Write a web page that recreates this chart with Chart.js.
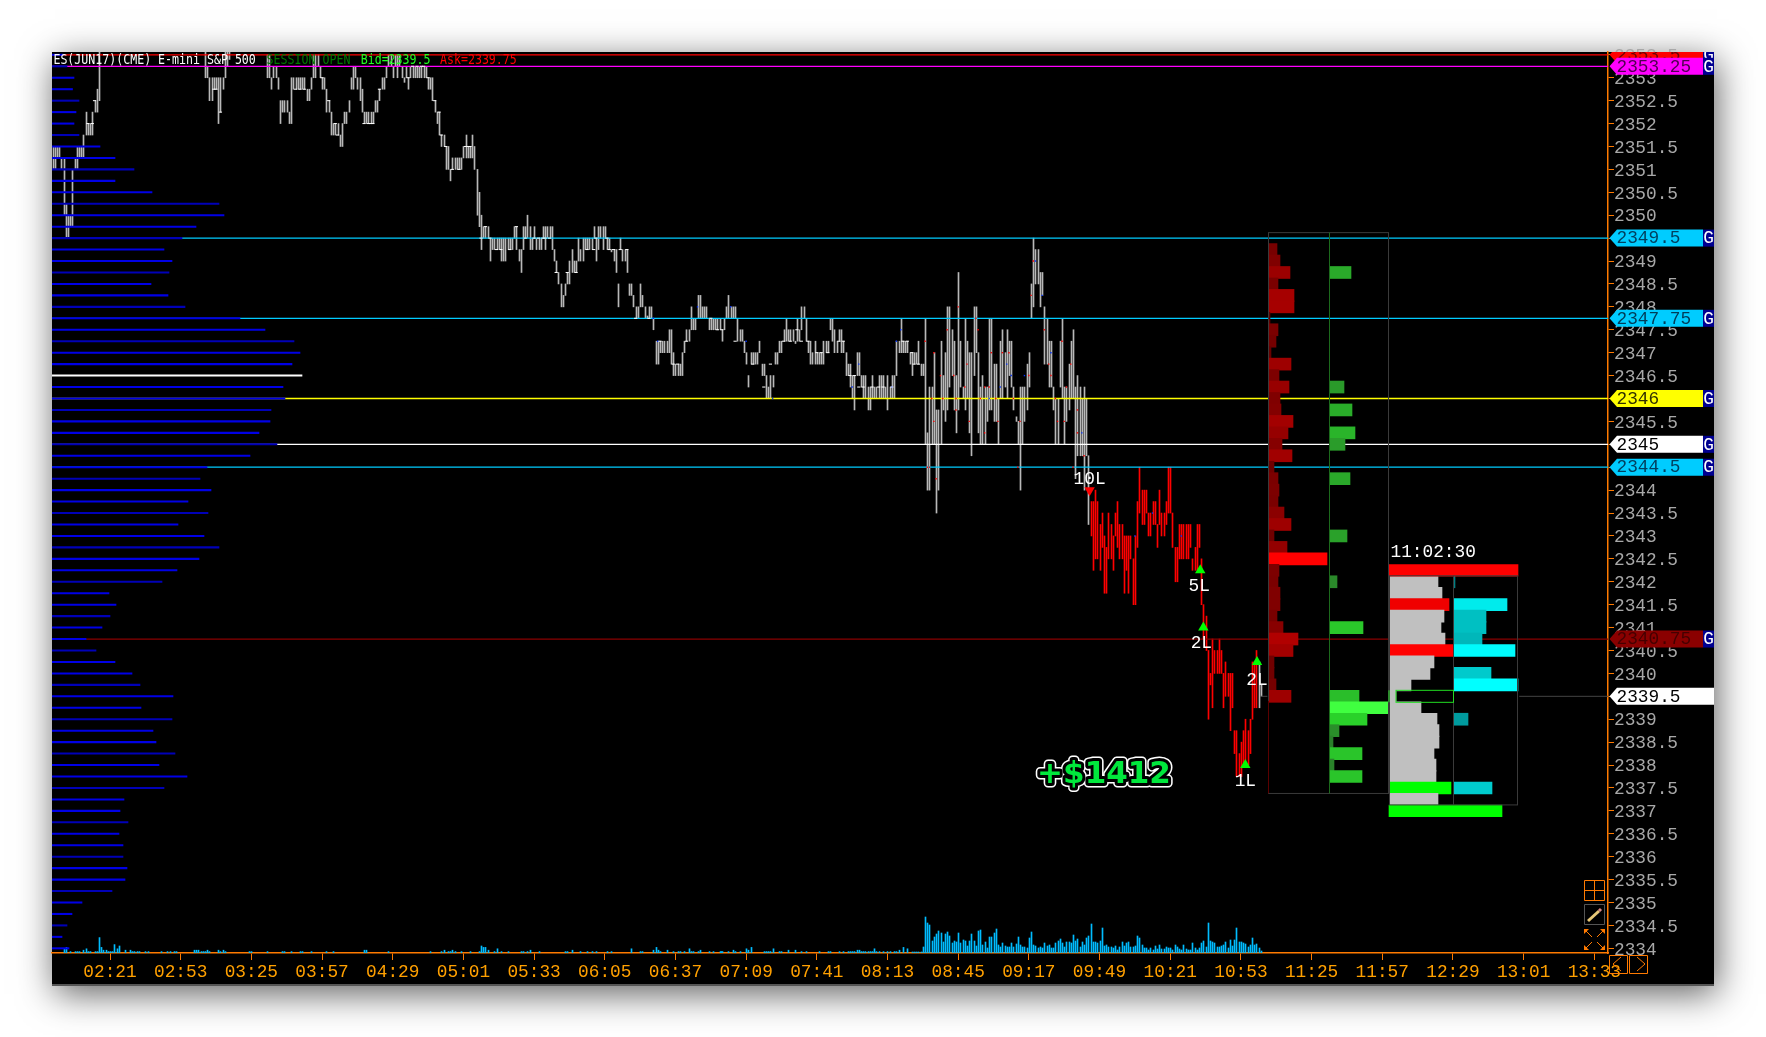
<!DOCTYPE html>
<html><head><meta charset="utf-8"><title>ES chart</title>
<script src="https://cdn.jsdelivr.net/npm/chart.js@4"></script>
<style>
html,body{margin:0;padding:0;background:#fff;overflow:hidden;width:1766px;height:1037px}
#panel{position:absolute;left:52px;top:52px;width:1662px;height:932px;background:#000;border-bottom:2px solid #555;box-shadow:3px 8px 34px rgba(0,0,0,.62)}
canvas{position:absolute;left:0;top:0}
</style></head><body><div id="panel"></div><canvas id="c" width="1766" height="1037"></canvas>
<script>
// ---------- axes ----------
const timeLabels=['02:21','02:53','03:25','03:57','04:29','05:01','05:33','06:05','06:37','07:09','07:41','08:13','08:45','09:17','09:49','10:21','10:53','11:25','11:57','12:29','13:01','13:33'];
const priceTicks=[2334,2334.5,2335,2335.5,2336,2336.5,2337,2337.5,2338,2338.5,2339,2339.5,2340,2340.5,2341,2341.5,2342,2342.5,2343,2343.5,2344,2344.5,2345,2345.5,2346,2346.5,2347,2347.5,2348,2348.5,2349,2349.5,2350,2350.5,2351,2351.5,2352,2352.5,2353,2353.5];
const priceMin=2333.898, priceMax=2353.562, timeMin=114.74, timeMax=819.2;
// ---------- one-minute price ranges [low, high], minutes after midnight ----------
const startA=115;
const barsA=[[2351,2351.5],[2351,2351.5],[2351.25,2351.5],[2351.25,2351.5],[2351,2351.25],[2350,2351.25],[2349.5,2350.25],[2349.5,2350],[2349.75,2350],[2349.75,2351],[2351,2351.25],[2351,2351.5],[2351.25,2351.5],[2351.25,2351.5],[2351.25,2351.75],[2351.75,2352.25],[2351.75,2352],[2351.75,2352],[2351.75,2352.25],[2352.25,2352.5],[2352.25,2352.75],[2352.5,2353.6]];
const startB=184;
const barsB=[[2353,2353.6],[2353,2353.25],[2352.5,2353],[2352.5,2353],[2352.75,2353],[2352.75,2353],[2352,2353],[2352.25,2353],[2352.75,2353],[2353,2353.6],[2353.25,2353.6],[2353.4,2353.6]];
const startC=212;
const barsC=[[2353,2353.5],[2353,2353.5],[2352.75,2353],[2353,2353.25],[2353,2353.25],[2352.75,2353],
[2352,2352.5],[2352.25,2352.5],[2352.25,2352.5],[2352.25,2352.5],[2352,2352.25],[2352,2353],[2352.75,2353],[2352.75,2353],[2352.75,2353],[2352.75,2353],[2352.75,2353],[2352.75,2353],[2352.5,2352.75],[2352.5,2352.75],[2352.75,2353],[2353,2353.5],[2353,2353.5],[2353.25,2353.5],[2353,2353.25],[2352.75,2353],[2352.75,2353],[2352.25,2352.75],[2352.25,2352.5],[2351.75,2352.25],[2351.75,2352],[2351.75,2352],[2351.75,2352],[2351.5,2351.75],[2351.5,2352],[2352,2352.25],[2352,2352.25],[2352.25,2352.5],[2352.75,2353],[2352.75,2353.25],[2353,2353.25],[2352.75,2353],[2352.5,2353],[2352.25,2352.75],[2352,2352.25],[2352,2352.25],[2352,2352.25],[2352,2352.25],[2352,2352.25],[2352.25,2352.5],[2352.25,2352.5],[2352.5,2352.75],[2352.75,2353],[2352.75,2353],[2353,2353.25],[2353.25,2353.5],[2353.25,2353.5],[2353,2353.25],[2353.25,2353.5],[2353,2353.5],[2353.25,2353.5],[2353,2353.25],[2352.9,2353],[2353,2353.25],[2352.75,2353],[2353,2353.25],[2353,2353.25],[2353,2353.25],[2353,2353.25],[2353,2353.25],[2353,2353.25],[2353,2353.25],[2353,2353.25],[2352.75,2353],[2352.75,2353],[2352.5,2353],[2352.25,2352.5],[2352,2352.25],[2351.75,2352.25],[2351.5,2351.75],[2351.5,2351.75],[2351,2351.5],[2351,2351.5],[2350.75,2351],[2351,2351.25],[2351,2351.25],[2351,2351.25],[2351,2351.25],[2351,2351.25],[2351.25,2351.5],[2351.25,2351.75],[2351.25,2351.5],[2351.25,2351.5],[2351.25,2351.75],[2351,2351.5],[2350,2351],[2349.75,2350.5],[2349.25,2350],[2349.5,2349.75],[2349.5,2349.75],[2349.5,2349.75],[2349,2349.5],[2349.25,2349.5],[2349.25,2349.5],[2349.25,2349.5],[2349.25,2349.5],[2349,2349.5],[2349,2349.5],[2349,2349.5],[2349.25,2349.5],[2349.25,2349.5],[2349.25,2349.5],[2349.5,2349.75],[2349.25,2349.75],[2349,2349.25],[2348.75,2349.25],[2349.25,2349.75],[2349.5,2349.75],[2349.5,2350],[2349.25,2349.75],[2349.25,2349.5],[2349.5,2349.75],[2349.25,2349.5],[2349.25,2349.5],[2349.25,2349.5],[2349.5,2349.75],[2349.25,2349.75],[2349.5,2349.75],[2349.5,2349.75],[2349.25,2349.75],[2349,2349.25],[2348.75,2349],[2348.5,2348.75],[2348,2348.5],[2348,2348.25],[2348.25,2348.5],[2348.5,2348.75],[2348.5,2349],[2348.75,2349.25],[2348.75,2349],[2348.75,2349],[2349,2349.5],[2349,2349.25],[2349,2349.5],[2349.25,2349.5],[2349.25,2349.5],[2349.25,2349.5],[2349.25,2349.5],[2349.5,2349.75],[2349,2349.5],[2349.25,2349.75],[2349.5,2349.75],[2349.25,2349.75],[2349.5,2349.75],[2349.25,2349.5],[2349.25,2349.5],[2349.2,2349.25],[2349,2349.25],[2348.75,2349.25],[2348,2348.5],
[2349.25,2349.5],[2349,2349.25],[2349,2349.25],[2348.75,2349.25],[2348.25,2348.5],[2348.25,2348.5],[2348,2348.25],[2347.75,2348],[2347.75,2348],[2348,2348.5],[2348,2348.25],[2347.75,2348],[2347.75,2347.8],[2347.75,2348],[2347.75,2348],[2347.5,2347.75],[2346.75,2347.25],[2346.75,2347.25],[2347,2347.25],[2347,2347.25],[2347,2347.25],[2347,2347.25],[2347,2347.5],[2346.75,2347.5],[2346.5,2347],[2346.5,2346.75],[2346.5,2346.75],[2346.5,2346.75],[2346.5,2347],[2347,2347.25],[2347.25,2347.5],[2347.25,2347.5],[2347.5,2348],[2347.5,2347.75],[2347.5,2347.75],[2347.75,2348.25],[2347.75,2348.25],[2347.75,2348],[2347.75,2348],[2347.75,2348],[2347.5,2347.75],[2347.5,2347.75],[2347.5,2347.75],[2347.5,2347.75],[2347.5,2347.75],[2347.5,2347.75],[2347.25,2347.5],[2347.5,2347.75],[2347.75,2348],[2347.75,2348.25],[2347.75,2348],[2347.75,2348],[2347.75,2348],[2347.25,2347.75],[2347.25,2347.5],[2347.25,2347.5],[2347,2347.25],[2346.75,2347],[2346.25,2346.5],[2346.75,2347],[2346.75,2347],[2346.75,2347],[2346.75,2347],[2347,2347.25],[2346.5,2346.75],[2346.5,2346.75],[2346,2346.5],[2346,2346.25],[2346,2346.5],[2346.25,2346.5],[2346.75,2347],[2346.75,2347],[2347,2347.25],[2347,2347.25],[2347.25,2347.5],[2347.25,2347.75],[2347.25,2347.5],[2347.25,2347.5],[2347.25,2347.5],[2347.2,2347.25],[2347.25,2347.75],[2347.25,2347.5],[2347.5,2348],[2347.75,2348],[2347.25,2347.75],[2347,2347.25],[2346.75,2347.25],[2346.75,2347],[2346.75,2347.25],[2346.75,2347],[2346.75,2347],[2346.75,2347],[2346.75,2347.25],[2347,2347.25],[2347,2347.25],[2347.5,2347.75],[2347.25,2347.75],[2347,2347.5],[2347,2347.25],[2347.25,2347.5],[2347,2347.5],[2347,2347.25],[2346.5,2347],[2346.5,2346.75],[2346.25,2346.75],[2346,2346.5],[2345.75,2346.5],[2346.5,2347],[2346.5,2347],[2346.25,2346.5],[2346,2346.5],[2346,2346.5],[2345.75,2346.25],[2345.75,2346.25],[2346,2346.5],[2346,2346.25],[2346,2346.25],[2346,2346.5],[2346,2346.5],[2346,2346.5],[2346,2346.25],[2345.75,2346.5],[2346,2346.25],[2346,2346.5],[2346,2346.5],[2346.5,2347.25],[2347,2347.25],[2347,2347.75],[2347,2347.25],[2347,2347.25],[2347,2347.25],[2346.75,2347],[2346.5,2347],[2346.75,2347],[2346.75,2347],[2346.75,2347.25],[2346.5,2346.75],[2346.5,2346.75],
[2345,2347.75],[2344,2345.25],[2344,2346.25],[2345,2346.25],[2345,2347],[2343.5,2345.75],[2344,2345.75],[2345,2347.25],[2345.75,2346.5],[2345.5,2347],[2345.75,2348],[2346.25,2348],[2346.5,2347.5],[2345.75,2347.25],[2345.25,2346.5],[2345.75,2348.75],[2346.25,2347.25],[2346,2346.25],[2345.75,2347.75],[2346,2347.25],[2345.25,2347],[2344.75,2347],[2346.5,2348],[2347,2348],[2345.25,2347],[2345,2346.25],[2345,2346.5],[2345,2346.25],[2345.5,2346.25],[2345.75,2347.75],[2345.75,2347.75],[2345.5,2346.75],[2345.5,2346.75],[2345,2346],[2346,2347.25],[2346,2347.5],[2346.25,2347],[2346,2347.5],[2346.5,2347.25],[2346.25,2347.25],[2345.75,2346.25],[2345.5,2345.6],[2345,2345.5],[2344,2346.25],[2345,2346.25],[2345.5,2346.25],[2345.75,2346.75],[2346.25,2347],[2347.75,2348.5],[2348,2349.5],[2348.5,2349.25],[2348.5,2349.25],[2348,2348.75],[2348.25,2348.75],[2346.75,2348],[2346.75,2347.75],[2346.25,2347.25],[2346.25,2347.25],[2345.75,2346.25],[2345,2346],[2345,2346],[2346.25,2347.25],[2346,2347.75],[2345,2346.25],[2345.5,2346.25],[2345.75,2346.75],[2346,2347.25],[2346,2347.5],[2344.25,2346.25],[2344.75,2346.5],[2344.75,2346.25],[2344.75,2346],[2344,2346.25],[2344.75,2346],[2343.25,2344.75]];
const startRed=585;
const barsRed=[[2343,2343.75],[2342.25,2343.75],[2342.5,2344],[2342.5,2343.75],[2342.25,2343.25],[2342.75,2343.5],[2341.75,2343],[2341.75,2342.75],[2342.5,2343.5],[2342.5,2343.25],[2342.25,2343],[2343,2343.5],[2342.75,2343.75],[2342.5,2343.25],[2342.5,2343.25],[2341.75,2343],[2342.25,2343],[2341.75,2343],[2342.5,2343],[2341.5,2342.5],[2341.5,2343],[2342.75,2343.75],[2343.5,2344.5],[2343.25,2344],[2343.25,2344],[2343.5,2344],[2343,2343.5],[2343,2343.5],[2343.25,2343.75],[2343.25,2343.75],[2342.75,2343.25],[2343.25,2344],[2343,2343.5],[2343,2343.5],[2343.25,2343.75],[2343.5,2344.5],[2343.5,2344.5],[2342.75,2343.5],[2342,2342.75],[2342,2342.75],[2342.5,2343.25],[2342.5,2343.25],[2342.5,2343.25],[2342.5,2343.25],[2342.5,2343.25],[2342.75,2343.25],[2342.25,2342.5],[2342.25,2342.75],[2342.25,2343.25],[2342.75,2343.25],
[2341.5,2342.5],[2340.75,2341.5],[2340.5,2341.25],[2339,2340.5],[2339.75,2340],[2339.25,2340.75],[2340,2340.5],[2340,2340.5],[2340,2340.75],[2340,2340.5],[2339.25,2340],[2339.5,2340.25],[2339.5,2340],[2338.75,2340],[2339.25,2340],[2338.25,2338.75],[2337.75,2338.75],[2337.75,2338.25],[2337.75,2338.5],[2338,2338.75],[2338,2339],[2338,2338.75],[2338.25,2339],[2339,2340.25],[2339.25,2340.25],[2339.25,2340.5]];
const startLast=661;
const barsLast=[[2339.25,2340.25],[2339.5,2339.75]];
// small close ticks and trade dots on the bars [minute, price]
const whiteTicks=[[131,2352],[133,2352],[134,2352.5],[188,2352.75],[189,2352.75],[191,2352.25],[225,2352.75],[227,2352.75],[229,2352.75],[237,2353],[240,2352.5],[243,2352],[244,2351.75],[256,2352],[258,2352],[259,2352],[260,2352],[263,2352.75],[276,2353],[278,2353.25],[280,2353.25],[282,2353.25],[283,2353.25],[285,2353],[288,2352.5],[290,2352.25],[291,2351.75],[293,2351.5],[296,2351],[299,2351],[302,2351.5],[303,2351.5],[304,2351.5],[309,2349.5],[311,2349.75],[313,2349.5],[316,2349.25],[318,2349.25],[322,2349.25],[325,2349.75],[329,2349.5],[333,2349.5],[335,2349.5],[337,2349.5],[338,2349.5],[340,2349.5],[343,2348.75],[348,2348.75],[352,2348.75],[357,2349.25],[360,2349.25],[361,2349.5],[366,2349.5],[367,2349.25],[369,2349.25],[372,2349.25],[375,2349.25],[379,2347.75],[385,2347.75],[390,2347.25],[396,2346.75],[398,2346.75],[402,2347.25],[413,2347.75],[416,2347.5],[418,2347.5],[424,2347.25],[432,2346.75],[437,2346.25],[440,2346.75],[446,2347.25],[449,2347.25],[452,2347.5],[454,2347.25],[457,2347.25],[461,2347],[463,2347],[466,2347],[471,2347.25],[473,2347.25],[476,2346.5],[478,2346.5],[480,2346.25],[482,2346.25],[486,2346.25],[489,2346.25],[491,2346.25],[495,2346.25],[500,2347.25],[502,2347.25],[504,2347],[505,2346.75],[507,2346.75]];
const redDots=[[511,2344.5],[512,2344.5],[510,2347.25],[514,2347],[513,2346],[514,2345.5],[515,2344.25],[518,2346],[517,2346.5],[520,2347.5],[523,2346.5],[524,2346],[524,2345.75],[525,2348],[528,2346.25],[529,2346.75],[530,2345.5],[533,2347.75],[534,2347.5],[535,2346],[537,2346.25],[537,2345.25],[539,2346.25],[540,2347],[542,2346],[543,2345.5],[545,2347],[548,2347],[550,2346],[553,2345.5],[552,2344.5],[557,2346.5],[559,2349],[558,2348.25],[564,2347.5],[566,2346.75],[567,2346.5],[570,2345.5],[569,2346],[572,2347.25],[573,2345.5],[574,2346.25],[576,2346.75],[579,2345.25],[579,2345.75],[577,2344.5],[582,2344.75]];
const blueDots=[[567,2347],[581,2345.25],[560,2349],[544,2346.25],[549,2346.5],[555,2346.5],[539,2346],[563,2348.25],[387,2347.75],[389,2347.25],[407,2348],[422,2348],[429,2347.25],[441,2346],[477,2346.25],[480,2346.75],[495,2346.25],[497,2347.25],[499,2347.5],[547,2346.75],[605,2343],[613,2343.5],[626,2343]];
// ---------- volume ----------
const sparseVolTime=[120,121,123,125,126,127,129,130,131,132,134,135,136,137,138,139,140,141,142,143,144,145,148,150,151,152,153,154,157,158,164,167,168,170,171,179,180,181,182,183,184,185,186,190,191,192,193,204,205,212,219,220,223,227,228,232,239,242,256,257,267,286,291,292,294,295,296,297,300,304,308,309,310,311,312,315,316,318,321,327,328,330,331,335,347,348,350,354,357,359,361,366,368,377,381,382,387,388,389,390,393,396,398,399,401,403,404,405,407,408,412,414,417,418,417.5,421,423,424,426,429,430,431,437,438,439,440,441,444,445,448,451,454,456,462,466,467,471,473,475,476,477,478,479,480,481,482,483,484,485,486,487,488,489,491,493,494,496,497,498,500,502];
const sparseVol=[3,4,1,1,1,1,2,3,1,1,1,1,11,4,2,2,1,1,1,6,3,5,2,2,1,1,1,1,1,1,1,1,1,1,1,2,2,2,1,1,1,2,1,2,1,2,1,1,1,1,1,1,1,1,1,1,1,1,2,2,1,1,1,2,1,1,2,1,1,1,1,5,4,4,2,1,3,1,1,1,1,1,2,1,1,1,2,1,1,1,1,1,1,3,1,1,2,4,2,1,2,1,1,1,1,3,1,1,1,2,1,1,1,1,1,1,2,1,1,3,2,4,1,1,1,1,3,1,1,2,2,1,1,1,1,1,1,1,1,1,1,1,2,2,1,1,1,1,1,1,3,1,1,1,1,1,1,1,2,4,3,4,1,4];
const volStart=504;
const minuteVol=[1,1,1,1,1,6,36,30,28,12,16,19,22,20,11,19,21,17,10,12,11,20,10,13,12,7,12,19,12,7,22,23,8,11,5,16,16,20,24,8,6,10,7,6,6,10,6,9,16,8,6,6,5,15,21,8,7,5,6,5,10,7,8,5,5,10,12,14,10,6,11,11,10,18,12,14,6,11,8,15,17,29,11,11,10,12,25,7,8,6,6,5,7,3,6,11,7,10,11,6,6,7,17,15,8,5,5,3,5,3,7,4,8,4,4,6,5,5,3,8,6,4,3,8,4,3,3,10,5,3,5,10,12,6,30,12,11,10,6,6,7,8,11,5,13,7,13,25,11,11,10,9,6,8,15,8,9,5,2];
// ---------- left volume profile (one row per 0.25 from the top) ----------
const profileTop=2353.5;
const profileVol=[11,15,22,20.5,27,24,22,27,48,63,82,63,100,167,172,144,130,112,120,117,99,116,133,188,213,242,248,240,250,231,233,219,218,207,225,198,155,148,159,136,156,126,152,167,147,125,110,57,64,58,50,34,44,63,80,88,121,89,120,101,104,123,107,135,112,72,68,76,67,71,71,75,73,60,30,20,15,10,17];
const pocPrice=2346.5;
// ---------- session profiles ----------
const redTop=2349.25;
const redVol=[8,11,21,9,25,25,1,9,7,2,22,10,20,11,12,24,19,13,23,5,9,10,9,15,22,5,18,58,10,9,11,11,8,14,29,24,5,5,7,22];
const greenPrices=[2348.75,2346.25,2345.75,2345.25,2345,2344.25,2343,2342,2341,2339.5,2339.25,2339,2338.75,2338.5,2338.25,2338,2337.75];
const greenVol=[21,14,22,25,15,20,17,7,33,29,58,37,9,3,32,4,32];
const grayTop=2342;
const grayVol=[48,52,59,54,51,55,63,44,40,21,6,31,47,49,49,44,46,46,61,48];
const grayRed=[2341.5,2340.5];
const grayGreen=[2337.5];
const cyanPrices=[2342,2341.5,2341.25,2341,2340.75,2340.5,2340,2339.75,2339,2337.5];
const cyanVol=[1,53,32,32,28,61,37,64,14,38];
const sessionHigh=[2342.25,129], sessionLow=[2337,113];
const clockText='11:02:30';
// ---------- level lines and tags ----------
const levelPrices=[2353.5,2353.25,2349.5,2347.75,2346,2345,2344.5,2340.75];
const levelColors=['#ff0000','#ff00ff','#00ccff','#00ccff','#ffff00','#ffffff','#00ccff','#8a0000'];
const levelText=['2353.5','2353.25','2349.5','2347.75','2346','2345','2344.5','2340.75'];
const levelInk=['#700000','#500050','#004060','#003c58','#303000','#000000','#004060','#450000'];
const lastPrice=2339.5, lastText='2339.5', lastStart=662, lastGapFrom=779, lastLineEnd=timeMax;
// ---------- signals ----------
const sigTime=[584.5,634.6,636,660.3,655];
const sigPrice=[2344,2342.25,2341,2340.25,2338];
const sigText=['10L','5L','2L','2L','1L'];
const sigDir=['down','up','up','up','up'];
const pnlText='+$1412', pnlTime=608, pnlPrice=2338;
const headText=['ES(JUN17)(CME) E-mini S&P 500','SESSION OPEN','Bid=2339.5','Ask=2339.75'];

const mono='"Liberation Mono"';
const toMin=s=>{const p=s.split(':');return +p[0]*60+ +p[1]};
const fmtMin=m=>String(Math.floor(m/60)).padStart(2,'0')+':'+String(m%60).padStart(2,'0');
const rowsFrom=(arr,start)=>arr.map((r,i)=>({x:start+i,y:r}));
const GRAY='#b8b8b8';
const vbar=(data,color,w,order,extra)=>Object.assign({type:'bar',data,backgroundColor:color,barThickness:w,grouped:false,borderWidth:0,order,xAxisID:'x',yAxisID:'y'},extra||{});
const hbar=(data,color,axis,thick,order)=>({type:'bar',indexAxis:'y',data,backgroundColor:color,barThickness:thick,grouped:false,borderWidth:0,order,xAxisID:axis,yAxisID:'y'});
const dotSet=(pts,color,style,r,order,bw)=>({type:'scatter',data:pts.map(p=>({x:p[0],y:p[1]})),backgroundColor:color,borderColor:color,pointStyle:style,pointRadius:r,borderWidth:bw===undefined?0:bw,order,xAxisID:'x',yAxisID:'y'});

const redC=v=>`rgb(${Math.min(255,Math.round(120+(v-8)*2.7))},0,0)`;
const greenC=v=>{const g=Math.min(255,Math.round(120+v*2.4));const o=v>50?64:42;return `rgb(${o},${g},${o})`};
const cyanC=v=>`rgb(0,${Math.min(255,Math.round(126+v*2.05))},${Math.min(255,Math.round(130+v*2))})`;

const datasets=[];
// session profiles
datasets.push(hbar(redVol.map((v,i)=>({y:redTop-i*.25,x:[0,v]})),redVol.map(redC),'xRed',12,5));
datasets.push(hbar(greenVol.map((v,i)=>({y:greenPrices[i],x:[0,v]})),greenVol.map(greenC),'xGreen',12,5));
datasets.push(hbar(grayVol.map((v,i)=>({y:grayTop-i*.25,x:[0,v]})),grayVol.map((v,i)=>{const p=grayTop-i*.25;return grayGreen.includes(p)?'#00ff00':grayRed.includes(p)?(p===2341.5?'#f00000':'#ff0000'):'#c0c0c0'}),'xGray',12,5));
datasets.push(hbar(cyanVol.map((v,i)=>({y:cyanPrices[i],x:[0,v]})),cyanVol.map(cyanC),'xCyan',12,5));
datasets.push(hbar([{y:sessionHigh[0],x:[-1,sessionHigh[1]-1]}],'#ff0000','xGray',11.5,4));
datasets.push(hbar([{y:sessionLow[0],x:[-1,sessionLow[1]-1]}],'#00ff00','xGray',11.5,4));
// left profile
datasets.push(hbar(profileVol.map((v,i)=>({y:profileTop-i*.25,x:[0,v]})),profileVol.map((v,i)=>profileTop-i*.25===pocPrice?'#ffffff':(i%3===1?'#0000b8':'#0000e6')),'xBlue',1.4,6));
// level lines
levelPrices.forEach((p,i)=>datasets.push({type:'line',data:[{x:timeMin,y:p},{x:timeMax,y:p}],borderColor:levelColors[i],borderWidth:i===7?1.2:1.3,pointRadius:0,order:7,xAxisID:'x',yAxisID:'y'}));
datasets.push({type:'line',data:[{x:lastStart,y:lastPrice},{x:665,y:lastPrice}],borderColor:'#444',borderWidth:1,pointRadius:0,order:7,xAxisID:'x',yAxisID:'y'});
datasets.push({type:'line',data:[{x:lastGapFrom,y:lastPrice},{x:lastLineEnd,y:lastPrice}],borderColor:'#444',borderWidth:1,pointRadius:0,order:7,xAxisID:'x',yAxisID:'y'});
// markers on bars
datasets.push(dotSet(whiteTicks,'#ffffff','line',1.6,3,1));
datasets.push(dotSet(redDots,'#ff0000','rect',1,3));
datasets.push(dotSet(blueDots,'#0030ff','rect',1,3));
datasets.push(Object.assign(dotSet(sigTime.map((t,i)=>[t,sigPrice[i]]),sigDir.map(d=>d==='down'?'#ff0000':'#00ff00'),'triangle',6,2),{rotation:sigDir.map(d=>d==='down'?180:0)}));
// price bars
datasets.push(vbar(rowsFrom(barsA,startA),GRAY,1,10));
datasets.push(vbar(rowsFrom(barsB,startB),GRAY,1,10));
datasets.push(vbar(rowsFrom(barsC,startC),GRAY,1,10));
datasets.push(vbar(rowsFrom(barsRed,startRed),'#ff0000',1,9));
datasets.push(vbar(rowsFrom(barsLast,startLast),GRAY,1,9));
// volume
const volColor='#00bcff';
datasets.push(vbar(sparseVolTime.map((t,i)=>({x:t,y:sparseVol[i]*1.4})),volColor,1,11,{yAxisID:'yVol'}));
datasets.push(vbar(minuteVol.map((v,i)=>({x:volStart+i,y:v})),volColor,1,11,{yAxisID:'yVol'}));

const hid=(axis,min,max)=>({axis,type:'linear',display:false,min,max,offset:false,beginAtZero:false,grid:{offset:false,display:false}});
const AXIS='#ff7a00';

// keep the thin vertical bars on whole pixels, as the original terminal draws them
const snapPlugin={id:'snap',afterDatasetsUpdate(chart){
  chart.data.datasets.forEach((d,i)=>{
    if(d.type!=='bar'||d.indexAxis==='y')return;
    chart.getDatasetMeta(i).data.forEach(el=>{el.x=Math.round(el.x)+.5;el.width=1;});
  });
}};

const drawPlugin={id:'furniture',afterDraw(chart){
  const c=chart.ctx,{x,y,xRed,xGreen,xGray,xCyan}=chart.scales;
  c.save();
  // profile frames
  c.strokeStyle='#3a3a3a';c.lineWidth=1;
  const aL=xRed.getPixelForValue(-1)+.5,aM=xGreen.getPixelForValue(-1)+.5,aR=xGray.getPixelForValue(-2)+.5;
  const aT=y.getPixelForValue(2349.62),aB=y.getPixelForValue(2337.38);
  c.strokeRect(aL,aT,aR-aL,aB-aT);
  c.strokeStyle='#1c6a1c';c.beginPath();c.moveTo(aM,aT);c.lineTo(aM,aB);c.stroke();
  c.strokeStyle='#5a0000';c.beginPath();c.moveTo(aL,y.getPixelForValue(2339.4));c.lineTo(aL,aB);c.stroke();
  c.strokeStyle='#3a3a3a';
  const bL=xGray.getPixelForValue(-1)+.5,bM=xCyan.getPixelForValue(-1)+.5,bR=xGray.getPixelForValue(127)+.5;
  const bT=y.getPixelForValue(2342.13),bB=y.getPixelForValue(2337.13);
  c.strokeRect(bL,bT,bR-bL,bB-bT);
  c.beginPath();c.moveTo(bM,bT);c.lineTo(bM,bB);c.stroke();
  // current-price box
  c.strokeStyle='#22dd22';
  const gy=y.getPixelForValue(lastPrice);
  c.strokeRect(xGray.getPixelForValue(6),gy-6,bM-xGray.getPixelForValue(6),12);
  c.beginPath();c.moveTo(bL-.5,gy-6);c.lineTo(bL-.5,gy+6);c.stroke();
  // text
  c.textBaseline='middle';c.textAlign='left';
  const f17='17.8px '+mono;
  c.font=f17;c.fillStyle='#fff';
  c.fillText(clockText,bL+1,y.getPixelForValue(sessionHigh[0])-18);
  c.textAlign='center';
  const sigDx=[0,-1,-2,0,0], sigDy=[-11,16,16,18,16];
  sigTime.forEach((t,i)=>{const px=x.getPixelForValue(t),py=y.getPixelForValue(sigPrice[i]);
    c.fillText(sigText[i],px+sigDx[i],py+sigDy[i]);});
  // P&L text
  c.font='bold 31px "DejaVu Sans"';c.lineJoin='round';
  const px=1104,py=775;
  c.lineWidth=9;c.strokeStyle='#fff';c.strokeText(pnlText,px,py);
  c.lineWidth=6;c.strokeStyle='#000';c.strokeText(pnlText,px,py);
  c.fillStyle='#00e83c';c.fillText(pnlText,px,py);
  // heading
  c.textAlign='left';c.font='11.6px "DejaVu Sans Mono"';
  [['#ffffff',53.4],['#007a00',266.6],['#22ff22',360.7],['#ff0000',440]].forEach((h,i)=>{
    c.save();c.translate(h[1],60.5);c.scale(1,1.2);c.fillStyle=h[0];c.fillText(headText[i],0,0);c.restore();});
  // tags
  c.beginPath();c.rect(52,52,1662,932);c.clip();
  const tag=(p,col,ink,txt,g)=>{const ty=y.getPixelForValue(p),L=1609.5,B=1617,R=g?1703:1714;
    c.fillStyle=col;c.beginPath();c.moveTo(L,ty);c.lineTo(B,ty-8.5);c.lineTo(R,ty-8.5);c.lineTo(R,ty+8.5);c.lineTo(B,ty+8.5);c.closePath();c.fill();
    c.fillStyle=ink;c.font=f17;c.textAlign='left';c.fillText(txt,1616.5,ty+.5);
    if(g){c.fillStyle='#000090';c.fillRect(1703,ty-8.5,11,17);c.fillStyle='#fff';c.fillText('G',1703.2,ty+.5)}};
  levelPrices.forEach((p,i)=>tag(p,levelColors[i],levelInk[i],levelText[i],true));
  tag(lastPrice,'#ffffff','#000',lastText,false);
  // icons
  c.lineWidth=1;c.strokeStyle=AXIS;
  c.strokeRect(1584.5,880.5,20,20);c.beginPath();c.moveTo(1594.5,880.5);c.lineTo(1594.5,900.5);c.moveTo(1584.5,890.5);c.lineTo(1604.5,890.5);c.stroke();
  c.strokeStyle='#555';c.strokeRect(1584.5,904.5,20,20);
  c.lineWidth=3;c.strokeStyle='#e8c878';c.beginPath();c.moveTo(1588,921);c.lineTo(1599,911);c.stroke();
  c.strokeStyle='#d88';c.beginPath();c.moveTo(1599,911);c.lineTo(1601,909);c.stroke();
  c.lineWidth=1;c.strokeStyle=AXIS;c.fillStyle='#ff7a00';
  [[1584,929,1,1],[1605,929,-1,1],[1584,950,1,-1],[1605,950,-1,-1]].forEach(a=>{
    c.beginPath();c.moveTo(a[0],a[1]);c.lineTo(a[0]+a[2]*5,a[1]);c.lineTo(a[0],a[1]+a[3]*5);c.closePath();c.fill();
    c.beginPath();c.moveTo(a[0],a[1]);c.lineTo(a[0]+a[2]*8,a[1]+a[3]*8);c.stroke();});
  c.strokeRect(1609.5,955.5,18,18);c.strokeRect(1629.5,955.5,18,18);
  c.beginPath();c.moveTo(1621,957);c.lineTo(1613,964);c.lineTo(1621,971);c.moveTo(1637,957);c.lineTo(1645,964);c.lineTo(1637,971);c.stroke();
  c.restore();
}};

new Chart(document.getElementById('c'),{
  type:'bar',
  data:{datasets},
  plugins:[snapPlugin,drawPlugin],
  options:{
    responsive:false,animation:false,devicePixelRatio:1,
    layout:{padding:{left:52,top:52,right:52,bottom:53}},
    plugins:{legend:{display:false},tooltip:{enabled:false},title:{display:false}},
    events:[],
    scales:{
      x:{axis:'x',type:'linear',position:'bottom',min:timeMin,max:timeMax,offset:false,beginAtZero:false,
        afterBuildTicks:a=>{a.ticks=timeLabels.map(s=>({value:toMin(s)}))},
        afterFit:a=>{a.height=31},
        border:{color:AXIS,width:1.5},
        grid:{offset:false,drawOnChartArea:false,drawTicks:true,tickLength:7,tickColor:AXIS},
        ticks:{color:'#ffa000',font:{family:'Liberation Mono',size:17.8},padding:2,autoSkip:false,maxRotation:0,minRotation:0,includeBounds:false,callback:v=>fmtMin(v)}},
      y:{axis:'y',type:'linear',position:'right',min:priceMin,max:priceMax,offset:false,beginAtZero:false,
        afterBuildTicks:a=>{a.ticks=priceTicks.map(v=>({value:v}))},
        afterFit:a=>{a.width=106},
        border:{color:AXIS,width:1.5},
        grid:{offset:false,drawOnChartArea:false,drawTicks:true,tickLength:6,tickColor:AXIS},
        ticks:{color:'#a8a8a8',font:{family:'Liberation Mono',size:17.8},padding:0,labelOffset:1.5,autoSkip:false,includeBounds:false,callback:v=>String(v)}},
      yVol:hid('y',0,901),
      xBlue:hid('x',0,1556),
      xRed:hid('x',-1217,339),
      xGreen:hid('x',-1278,278),
      xGray:hid('x',-1338,218),
      xCyan:hid('x',-1402,154)
    }
  }
});
</script></body></html>
